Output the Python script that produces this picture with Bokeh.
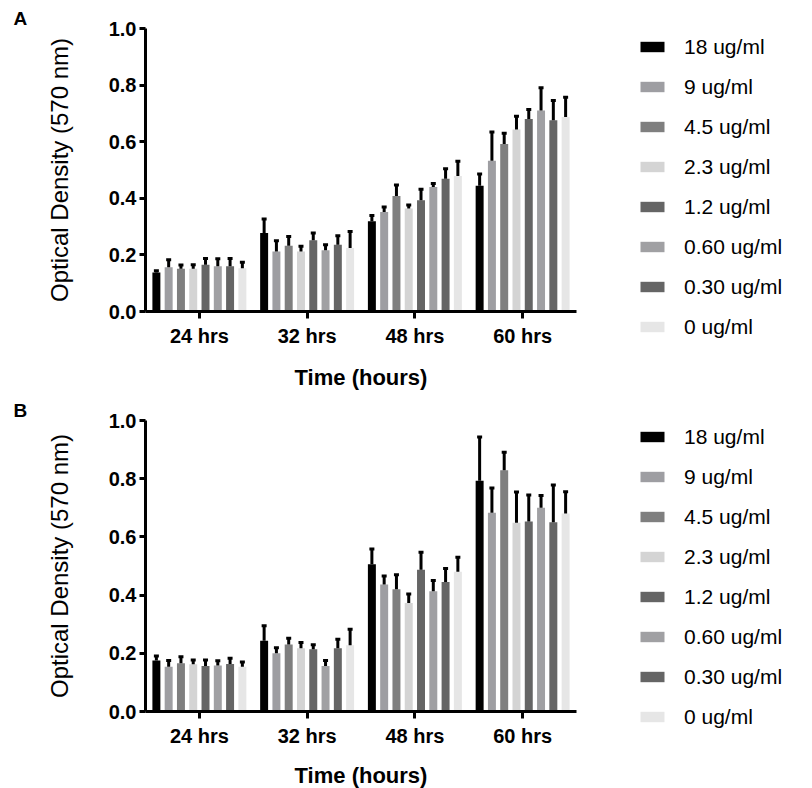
from bokeh.plotting import figure
from bokeh.models import (FactorRange, Range1d, ColumnDataSource, Legend, LegendItem,
                          Whisker, TeeHead, FixedTicker, PrintfTickFormatter)
from bokeh.transform import dodge
from bokeh.layouts import column
from bokeh.embed import file_html
from bokeh.resources import INLINE

groups = ["24 hrs", "32 hrs", "48 hrs", "60 hrs"]
concentrations = ["18 ug/ml", "9 ug/ml", "4.5 ug/ml", "2.3 ug/ml",
                  "1.2 ug/ml", "0.60 ug/ml", "0.30 ug/ml", "0 ug/ml"]
colors = ["#000000", "#9e9ea2", "#7f7f7f", "#d4d4d4",
          "#656565", "#a0a0a3", "#656565", "#e6e6e6"]

# Panel A: means and SD (upper error) per concentration, across groups
a_18 = [0.138, 0.277, 0.319, 0.444]
a_9 = [0.156, 0.212, 0.352, 0.533]
a_4_5 = [0.151, 0.232, 0.408, 0.592]
a_2_3 = [0.151, 0.212, 0.364, 0.643]
a_1_2 = [0.165, 0.252, 0.393, 0.680]
a_0_60 = [0.160, 0.216, 0.440, 0.710]
a_0_30 = [0.160, 0.236, 0.469, 0.676]
a_0 = [0.153, 0.224, 0.479, 0.687]

a_18_err = [0.006, 0.050, 0.020, 0.042]
a_9_err = [0.027, 0.038, 0.017, 0.101]
a_4_5_err = [0.013, 0.033, 0.039, 0.038]
a_2_3_err = [0.014, 0.019, 0.012, 0.047]
a_1_2_err = [0.022, 0.025, 0.039, 0.034]
a_0_60_err = [0.026, 0.020, 0.012, 0.081]
a_0_30_err = [0.027, 0.032, 0.035, 0.070]
a_0_err = [0.021, 0.059, 0.052, 0.070]

# Panel B
b_18 = [0.175, 0.243, 0.506, 0.793]
b_9 = [0.154, 0.200, 0.436, 0.683]
b_4_5 = [0.166, 0.230, 0.420, 0.829]
b_2_3 = [0.162, 0.217, 0.373, 0.649]
b_1_2 = [0.156, 0.214, 0.487, 0.653]
b_0_60 = [0.158, 0.156, 0.413, 0.700]
b_0_30 = [0.163, 0.217, 0.445, 0.650]
b_0 = [0.154, 0.228, 0.480, 0.680]

b_18_err = [0.016, 0.052, 0.052, 0.150]
b_9_err = [0.021, 0.019, 0.030, 0.085]
b_4_5_err = [0.022, 0.022, 0.050, 0.062]
b_2_3_err = [0.015, 0.020, 0.031, 0.105]
b_1_2_err = [0.021, 0.015, 0.060, 0.091]
b_0_60_err = [0.016, 0.019, 0.037, 0.042]
b_0_30_err = [0.020, 0.031, 0.046, 0.128]
b_0_err = [0.016, 0.055, 0.050, 0.075]

y_ticks = [0.0, 0.2, 0.4, 0.6, 0.8, 1.0]

FONT = "Liberation Sans"


def make_panel(letter, means, errs, border_top, border_bottom, frame_h, legend_loc, title_standoff):
    p = figure(x_range=FactorRange(*groups, range_padding=0), y_range=Range1d(0, 1),
               frame_width=431, frame_height=frame_h, min_border_left=145, min_border_right=0,
               min_border_top=border_top, min_border_bottom=border_bottom,
               output_backend="svg", toolbar_location=None,
               title=letter)
    p.outline_line_color = None
    p.xgrid.visible = False
    p.ygrid.visible = False

    p.title.text_font = FONT
    p.title.text_font_style = "bold"
    p.title.text_font_size = "19px"
    p.title.text_color = "black"
    p.title.align = "left"
    p.title.offset = -132
    p.title.standoff = 0

    pitch = 0.114
    bw = 0.074
    items = []
    for i, (conc, m, e) in enumerate(zip(concentrations, means, errs)):
        src = ColumnDataSource(dict(x=groups, top=m, upper=[a + b for a, b in zip(m, e)]))
        off = (i - 3.5) * pitch
        r = p.vbar(x=dodge("x", off, range=p.x_range), top="top", width=bw, source=src,
                   fill_color=colors[i], line_color=None)
        w = Whisker(base=dodge("x", off, range=p.x_range), lower="top", upper="upper",
                    source=src, line_width=3, line_color="black",
                    upper_head=TeeHead(size=5, line_width=3, line_color="black"),
                    lower_head=None, level="glyph")
        p.add_layout(w)
        items.append(LegendItem(label=conc, renderers=[r]))

    leg = Legend(items=items, location=legend_loc, glyph_width=30, glyph_height=13,
                 label_height=25, spacing=15, padding=0, margin=0, label_standoff=17,
                 label_text_font=FONT, label_text_font_size="21px",
                 label_text_color="black", border_line_color=None,
                 background_fill_alpha=0)
    p.add_layout(leg, "right")

    for ax in (p.xaxis, p.yaxis):
        ax.axis_line_width = 3
        ax.major_tick_line_width = 3
        ax.major_tick_in = 0
        ax.minor_tick_line_color = None
        ax.major_label_text_font = FONT
        ax.major_label_text_font_style = "bold"
        ax.major_label_text_font_size = "20px"
        ax.major_label_text_color = "black"
        ax.axis_label_text_font = FONT
        ax.axis_label_text_color = "black"

    p.yaxis.ticker = FixedTicker(ticks=y_ticks)
    p.yaxis.formatter = PrintfTickFormatter(format="%.1f")
    p.yaxis.major_tick_out = 6
    p.yaxis.major_label_standoff = 3
    p.yaxis.axis_label = "Optical Density (570 nm)"
    p.yaxis.axis_label_text_font_style = "normal"
    p.yaxis.axis_label_text_font_size = "24px"
    p.yaxis.axis_label_standoff = 33

    p.xaxis.major_tick_out = 7
    p.xaxis.major_label_standoff = 6
    p.xaxis.axis_label = "Time (hours)"
    p.xaxis.axis_label_text_font_style = "bold"
    p.xaxis.axis_label_text_font_size = "22px"
    p.xaxis.axis_label_standoff = title_standoff
    return p


pA = make_panel("A",
                [a_18, a_9, a_4_5, a_2_3, a_1_2, a_0_60, a_0_30, a_0],
                [a_18_err, a_9_err, a_4_5_err, a_2_3_err, a_1_2_err, a_0_60_err, a_0_30_err, a_0_err],
                28, 83, 283, (61, -28), 15)
pB = make_panel("B",
                [b_18, b_9, b_4_5, b_2_3, b_1_2, b_0_60, b_0_30, b_0],
                [b_18_err, b_9_err, b_4_5_err, b_2_3_err, b_1_2_err, b_0_60_err, b_0_30_err, b_0_err],
                26, 74, 291, (61, -18), 13)

layout = column(pA, pB, spacing=0)
open("out.html", "w").write(file_html(layout, INLINE))
